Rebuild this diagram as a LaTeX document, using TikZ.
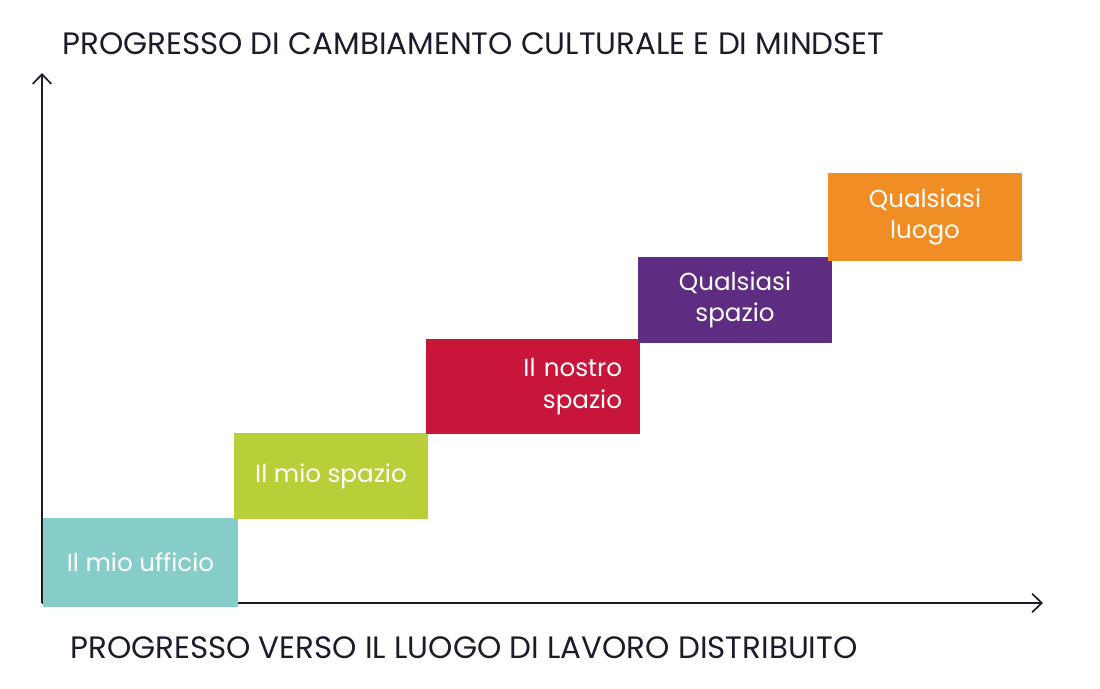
\documentclass[tikz,border=0pt]{standalone}
\usepackage{fontspec}
\setmainfont{Poppins}
\usetikzlibrary{arrows.meta}
\definecolor{teal}{HTML}{86CDC9}
\definecolor{lime}{HTML}{B8CF3A}
\definecolor{crim}{HTML}{C8163A}
\definecolor{purp}{HTML}{5E2C80}
\definecolor{oran}{HTML}{F08D24}
\definecolor{ink}{HTML}{1B1B2A}

\begin{document}
\begin{tikzpicture}[x=0.025cm, y=-0.025cm,
  stage/.style={minimum width=4.85cm, minimum height=2.175cm, inner sep=0pt, align=center, text=white, font=\fontsize{17.5}{22.5}\selectfont},
  axis/.style={line width=1.5pt, ink, -{Straight Barb[length=2.4mm, width=4.6mm, line width=1.2pt]}},
  ttl/.style={anchor=base west, text=ink, inner sep=0pt, font=\fontsize{22}{24}\selectfont}]
\useasboundingbox (0,0) rectangle (1100,689);
% axes
\coordinate (orig) at (42,603);
\coordinate (ytip) at (42,73);
\coordinate (xtip) at (1043,603);
\draw[axis] (orig) -- (ytip);
\draw[axis] (orig) -- (xtip);
% axis titles
\node[ttl] (ytitle) at (62,55) {PROGRESSO DI CAMBIAMENTO CULTURALE E DI MINDSET};
\node[ttl] (xtitle) at (70,658) {PROGRESSO VERSO IL LUOGO DI LAVORO DISTRIBUITO};
% stages
\node[stage, fill=teal, minimum height=2.2cm] (ufficio) at (140.5,562.5) {Il mio ufficio};
\node[stage, fill=lime, minimum height=2.15cm] (mio) at (331,476) {Il mio spazio};
\node[stage, fill=crim, minimum width=5.35cm, minimum height=2.375cm, text width=4.45cm, align=right] (nostro) at (533,386.5) {Il nostro\\spazio};
\node[stage, fill=purp, minimum height=2.15cm] (spazio) at (735,300) {Qualsiasi\\spazio};
\node[stage, fill=oran, minimum height=2.2cm] (luogo) at (925,217) {Qualsiasi\\luogo};
\end{tikzpicture}
\end{document}
